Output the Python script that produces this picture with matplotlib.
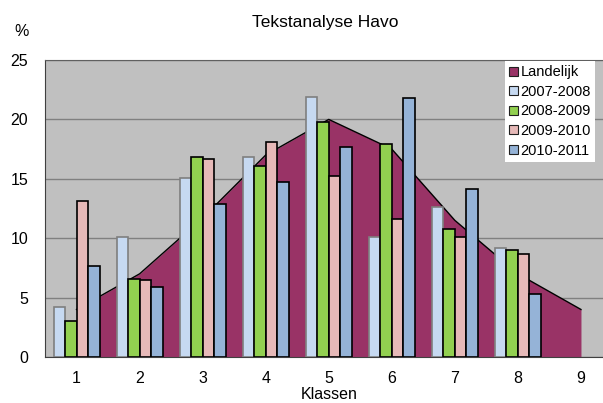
import matplotlib
matplotlib.use("Agg")
import matplotlib.pyplot as plt
from matplotlib.patches import Patch
import numpy as np

plt.rcParams['font.family'] = ['Liberation Sans', 'DejaVu Sans']

klassen = [1, 2, 3, 4, 5, 6, 7, 8, 9]
landelijk = [4.0, 7.0, 11.7, 17.0, 20.0, 17.5, 11.5, 7.0, 4.0]
jaren = ['2007-2008', '2008-2009', '2009-2010', '2010-2011']
j0708 = [4.2, 10.1, 15.1, 16.8, 21.9, 10.1, 12.6, 9.2]
j0809 = [3.0, 6.6, 16.8, 16.1, 19.8, 17.9, 10.8, 9.0]
j0910 = [13.1, 6.5, 16.7, 18.1, 15.2, 11.6, 10.1, 8.7]
j1011 = [7.7, 5.9, 12.9, 14.7, 17.7, 21.8, 14.1, 5.3]

kleur_land = '#993366'
kleuren = ['#C6D9F1', '#92D050', '#E6B9B8', '#95B3D7']
randen = ['#7F7F7F', '#000000', '#000000', '#000000']

fig = plt.figure(figsize=(6.03, 4.03), dpi=100)
ax = fig.add_axes([45 / 603, 1 - 357 / 403, 567.5 / 603, 297 / 403])
ax.set_facecolor('#C0C0C0')

x = np.array(klassen, dtype=float)
ax.fill_between(x, landelijk, 0, color=kleur_land, zorder=2, linewidth=0)
ax.plot(x, landelijk, color='black', lw=1, zorder=2.5)

# staafjes per schooljaar
w = 0.1825
series = [j0708, j0809, j0910, j1011]
for i, vals in enumerate(series):
    xs = np.arange(1, len(vals) + 1) + (i - 1.5) * w
    ax.bar(xs, vals, width=w, color=kleuren[i], edgecolor=randen[i],
           linewidth=1.2, zorder=3)

ax.set_xlim(0.5, 9.5)
ax.set_ylim(0, 25)
ax.set_yticks([0, 5, 10, 15, 20, 25])
ax.set_xticks(klassen)
ax.yaxis.grid(True, color='#808080', lw=1, zorder=0)
ax.set_axisbelow(True)
ax.tick_params(axis='both', length=0, labelsize=11.5)
ax.tick_params(axis='y', pad=12)
ax.tick_params(axis='x', pad=10)
for s in ['left', 'bottom']:
    ax.spines[s].set_color('#404040')
ax.spines['top'].set_color('#606060')
ax.spines['right'].set_visible(False)

ax.set_xlabel('Klassen', fontsize=11.5, labelpad=1)
fig.text(325 / 603, 1 - 22 / 403, 'Tekstanalyse Havo', ha='center', va='center', fontsize=12.5)
fig.text(22 / 603, 1 - 32 / 403, '%', ha='center', va='center', fontsize=11.5)

handles = [Patch(facecolor=kleur_land, edgecolor='#202020', lw=0.8, label='Landelijk')]
for i, j in enumerate(jaren):
    handles.append(Patch(facecolor=kleuren[i], edgecolor='#202020', lw=0.8, label=j))
leg = fig.legend(handles=handles, loc='upper left',
                 bbox_to_anchor=(505 / 603, 1 - 61 / 403), fontsize=10.5,
                 frameon=True, fancybox=False, framealpha=1, edgecolor='white',
                 handlelength=0.6, handleheight=0.6, handletextpad=0.15,
                 labelspacing=0.38, borderpad=0.3, borderaxespad=0)
leg.get_frame().set_linewidth(0)

fig.savefig('out.png', dpi=100)
